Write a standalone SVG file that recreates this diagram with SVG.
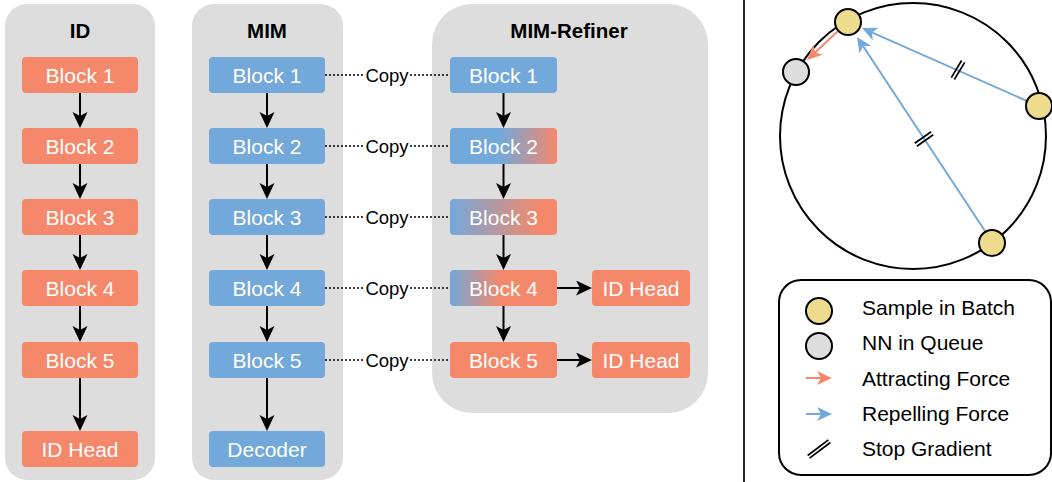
<svg xmlns="http://www.w3.org/2000/svg" width="1052" height="482" viewBox="0 0 1052 482">
<style>
.panel{fill:#DDDDDD}
.title{font-family:"Liberation Sans",Arial,sans-serif;font-weight:bold;font-size:20.5px;fill:#000;text-anchor:middle}
.blk{font-family:"Liberation Sans",Arial,sans-serif;font-size:21px;fill:#fff;text-anchor:middle}
.copy{font-family:"Liberation Sans",Arial,sans-serif;font-size:18.5px;fill:#000;text-anchor:middle}
.leg{font-family:"Liberation Sans",Arial,sans-serif;font-size:21px;fill:#000}
.or{fill:#F5886A}
.bl{fill:#73A8DA}
.arr{stroke:#000;stroke-width:2;fill:none;marker-end:url(#ah)}
.dot{stroke:#000;stroke-width:1.5;stroke-dasharray:2 2;fill:none}
.sg{stroke:#000;stroke-width:1.7}
</style>
<defs>
<marker id="ah" markerUnits="userSpaceOnUse" markerWidth="17" markerHeight="16" refX="12" refY="7.5" orient="auto">
<path d="M0,0 L16,7.5 L0,15 L4,7.5 Z" fill="#000"/>
</marker>
<marker id="ao" markerUnits="userSpaceOnUse" markerWidth="16" markerHeight="15" refX="11" refY="7" orient="auto">
<path d="M0,0 L15,7 L0,14 L4,7 Z" fill="#F5886A"/>
</marker>
<marker id="ab" markerUnits="userSpaceOnUse" markerWidth="16" markerHeight="15" refX="11" refY="7" orient="auto">
<path d="M0,0 L15,7 L0,14 L4,7 Z" fill="#73A8DA"/>
</marker>
<linearGradient id="g2" x1="0" y1="0" x2="1" y2="0">
<stop offset="0" stop-color="#73A8DA"/><stop offset="0.47" stop-color="#73A8DA"/><stop offset="1" stop-color="#F5886A"/>
</linearGradient>
<linearGradient id="g3" x1="0" y1="0" x2="1" y2="0">
<stop offset="0" stop-color="#73A8DA"/><stop offset="0.85" stop-color="#F5886A"/><stop offset="1" stop-color="#F5886A"/>
</linearGradient>
<linearGradient id="g4" x1="0" y1="0" x2="1" y2="0">
<stop offset="0" stop-color="#73A8DA"/><stop offset="0.48" stop-color="#F5886A"/><stop offset="1" stop-color="#F5886A"/>
</linearGradient>
</defs>

<g id="panel-id"><rect class="panel" x="5" y="4" width="150" height="476" rx="22"/><text class="title" x="80" y="38">ID</text></g>
<g id="panel-mim"><rect class="panel" x="192" y="4" width="151" height="476" rx="22"/><text class="title" x="267" y="38">MIM</text></g>
<g id="panel-refiner"><rect class="panel" x="432" y="4" width="276" height="409" rx="40"/><text class="title" x="569" y="38">MIM-Refiner</text></g>

<g id="id-b1"><rect class="or" x="22" y="57" width="116" height="36" rx="4"/><text class="blk" x="80" y="82.5">Block 1</text></g>
<g id="id-b2"><rect class="or" x="22" y="128" width="116" height="36" rx="4"/><text class="blk" x="80" y="153.5">Block 2</text></g>
<g id="id-b3"><rect class="or" x="22" y="199" width="116" height="36" rx="4"/><text class="blk" x="80" y="224.5">Block 3</text></g>
<g id="id-b4"><rect class="or" x="22" y="270" width="116" height="36" rx="4"/><text class="blk" x="80" y="295.5">Block 4</text></g>
<g id="id-b5"><rect class="or" x="22" y="342" width="116" height="36" rx="4"/><text class="blk" x="80" y="367.5">Block 5</text></g>
<g id="id-head"><rect class="or" x="22" y="431" width="116" height="36" rx="4"/><text class="blk" x="80" y="456.5">ID Head</text></g>

<g id="mim-b1"><rect class="bl" x="209" y="57" width="116" height="36" rx="4"/><text class="blk" x="267" y="82.5">Block 1</text></g>
<g id="mim-b2"><rect class="bl" x="209" y="128" width="116" height="36" rx="4"/><text class="blk" x="267" y="153.5">Block 2</text></g>
<g id="mim-b3"><rect class="bl" x="209" y="199" width="116" height="36" rx="4"/><text class="blk" x="267" y="224.5">Block 3</text></g>
<g id="mim-b4"><rect class="bl" x="209" y="270" width="116" height="36" rx="4"/><text class="blk" x="267" y="295.5">Block 4</text></g>
<g id="mim-b5"><rect class="bl" x="209" y="342" width="116" height="36" rx="4"/><text class="blk" x="267" y="367.5">Block 5</text></g>
<g id="mim-dec"><rect class="bl" x="209" y="431" width="116" height="36" rx="4"/><text class="blk" x="267" y="456.5">Decoder</text></g>

<g id="ref-b1"><rect class="bl" x="450" y="57" width="107" height="36" rx="4"/><text class="blk" x="503.5" y="82.5">Block 1</text></g>
<g id="ref-b2"><rect fill="url(#g2)" x="450" y="128" width="107" height="36" rx="4"/><text class="blk" x="503.5" y="153.5">Block 2</text></g>
<g id="ref-b3"><rect fill="url(#g3)" x="450" y="199" width="107" height="36" rx="4"/><text class="blk" x="503.5" y="224.5">Block 3</text></g>
<g id="ref-b4"><rect fill="url(#g4)" x="450" y="270" width="107" height="36" rx="4"/><text class="blk" x="503.5" y="295.5">Block 4</text></g>
<g id="ref-b5"><rect class="or" x="450" y="342" width="107" height="36" rx="4"/><text class="blk" x="503.5" y="367.5">Block 5</text></g>
<g id="ref-head4"><rect class="or" x="592" y="270" width="98" height="36" rx="4"/><text class="blk" x="641" y="295.5">ID Head</text></g>
<g id="ref-head5"><rect class="or" x="592" y="342" width="98" height="36" rx="4"/><text class="blk" x="641" y="367.5">ID Head</text></g>

<g id="connectors">
<line class="arr" x1="80" y1="93" x2="80" y2="124"/>
<line class="arr" x1="80" y1="164" x2="80" y2="195"/>
<line class="arr" x1="80" y1="235" x2="80" y2="266"/>
<line class="arr" x1="80" y1="306" x2="80" y2="338"/>
<line class="arr" x1="80" y1="378" x2="80" y2="427"/>
<line class="arr" x1="267" y1="93" x2="267" y2="124"/>
<line class="arr" x1="267" y1="164" x2="267" y2="195"/>
<line class="arr" x1="267" y1="235" x2="267" y2="266"/>
<line class="arr" x1="267" y1="306" x2="267" y2="338"/>
<line class="arr" x1="267" y1="378" x2="267" y2="427"/>
<line class="arr" x1="503.5" y1="93" x2="503.5" y2="124"/>
<line class="arr" x1="503.5" y1="164" x2="503.5" y2="195"/>
<line class="arr" x1="503.5" y1="235" x2="503.5" y2="266"/>
<line class="arr" x1="503.5" y1="306" x2="503.5" y2="338"/>
<line class="arr" x1="557" y1="288" x2="588" y2="288"/>
<line class="arr" x1="557" y1="360" x2="588" y2="360"/>
<g id="copy1"><line class="dot" x1="325" y1="75" x2="364" y2="75"/><text class="copy" x="387" y="81.5">Copy</text><line class="dot" x1="410" y1="75" x2="450" y2="75"/></g>
<g id="copy2"><line class="dot" x1="325" y1="146" x2="364" y2="146"/><text class="copy" x="387" y="152.5">Copy</text><line class="dot" x1="410" y1="146" x2="450" y2="146"/></g>
<g id="copy3"><line class="dot" x1="325" y1="217" x2="364" y2="217"/><text class="copy" x="387" y="223.5">Copy</text><line class="dot" x1="410" y1="217" x2="450" y2="217"/></g>
<g id="copy4"><line class="dot" x1="325" y1="288" x2="364" y2="288"/><text class="copy" x="387" y="294.5">Copy</text><line class="dot" x1="410" y1="288" x2="450" y2="288"/></g>
<g id="copy5"><line class="dot" x1="325" y1="360" x2="364" y2="360"/><text class="copy" x="387" y="366.5">Copy</text><line class="dot" x1="410" y1="360" x2="450" y2="360"/></g>
</g>

<line id="divider" x1="744" y1="0" x2="744" y2="482" stroke="#222" stroke-width="2"/>

<g id="sphere">
<circle cx="913" cy="136" r="133" fill="none" stroke="#000" stroke-width="2"/>
<line x1="838" y1="31" x2="810" y2="57.2" stroke="#F5886A" stroke-width="2" marker-end="url(#ao)"/>
<line x1="1027" y1="101" x2="865.6" y2="29.6" stroke="#73A8DA" stroke-width="2" marker-end="url(#ab)"/>
<line x1="985" y1="231" x2="859.2" y2="40.3" stroke="#73A8DA" stroke-width="2" marker-end="url(#ab)"/>
<g transform="translate(958,70) rotate(31)"><line class="sg" x1="-1.8" y1="-10" x2="-1.8" y2="10"/><line class="sg" x1="1.8" y1="-10" x2="1.8" y2="10"/></g>
<g transform="translate(924,139) rotate(55)"><line class="sg" x1="-1.8" y1="-10" x2="-1.8" y2="10"/><line class="sg" x1="1.8" y1="-10" x2="1.8" y2="10"/></g>
<circle cx="848" cy="22" r="13" fill="#EDDC8E" stroke="#000" stroke-width="2"/>
<circle cx="796" cy="72" r="13" fill="#DDDDDD" stroke="#000" stroke-width="2"/>
<circle cx="1039" cy="106" r="13" fill="#EDDC8E" stroke="#000" stroke-width="2"/>
<circle cx="992" cy="243" r="13" fill="#EDDC8E" stroke="#000" stroke-width="2"/>
</g>

<g id="legend">
<rect x="779" y="280" width="272" height="195" rx="22" fill="#fff" stroke="#000" stroke-width="2"/>
<circle cx="819" cy="311" r="13" fill="#EDDC8E" stroke="#000" stroke-width="2"/>
<circle cx="819" cy="346" r="13" fill="#DDDDDD" stroke="#000" stroke-width="2"/>
<line x1="806" y1="378" x2="828" y2="378" stroke="#F5886A" stroke-width="2" marker-end="url(#ao)"/>
<line x1="806" y1="414" x2="828" y2="414" stroke="#73A8DA" stroke-width="2" marker-end="url(#ab)"/>
<g transform="translate(819,449) rotate(53)"><line class="sg" x1="-1.6" y1="-13" x2="-1.6" y2="13"/><line class="sg" x1="1.6" y1="-13" x2="1.6" y2="13"/></g>
<text class="leg" x="862" y="315">Sample in Batch</text>
<text class="leg" x="862" y="350">NN in Queue</text>
<text class="leg" x="862" y="385.5">Attracting Force</text>
<text class="leg" x="862" y="420.5">Repelling Force</text>
<text class="leg" x="862" y="455.5">Stop Gradient</text>
</g>
</svg>
